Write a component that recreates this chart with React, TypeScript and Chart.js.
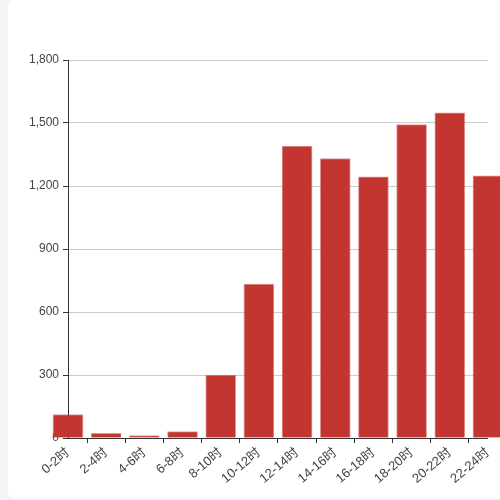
import { useEffect, useRef } from 'react';
import { Chart, registerables } from 'chart.js';

Chart.register(...registerables);

const HOURS = ['0-2时', '2-4时', '4-6时', '6-8时', '8-10时', '10-12时', '12-14时', '14-16时', '16-18时', '18-20时', '20-22时', '22-24时'];
const COUNTS = [112, 22, 11, 30, 300, 733, 1390, 1331, 1244, 1492, 1548, 1248];
const Y_TICKS = [0, 300, 600, 900, 1200, 1500, 1800];

const BAR_RED = '#c23531';
const AXIS = '#333';
const FONT = '"Liberation Sans", "Noto Sans CJK SC", sans-serif';

export default function App() {
  const canvasRef = useRef<HTMLCanvasElement>(null);
  const chartRef = useRef<Chart | null>(null);

  useEffect(() => {
    if (!canvasRef.current) return;
    document.body.style.margin = '0';
    document.body.style.background = '#f3f3f8';
    document.body.style.overflow = 'hidden';

    chartRef.current?.destroy();
    chartRef.current = new Chart(canvasRef.current, {
      type: 'bar',
      data: {
        labels: HOURS,
        datasets: [
          {
            data: COUNTS,
            backgroundColor: BAR_RED,
            borderColor: 'rgba(194,53,49,0.5)',
            borderWidth: 1,
            barThickness: 30,
            clip: false,
          },
        ],
      },
      options: {
        animation: false,
        responsive: true,
        maintainAspectRatio: false,
        layout: { padding: { top: 60, right: 12, left: 0, bottom: 0 } },
        plugins: {
          legend: { display: false },
          tooltip: { enabled: false },
        },
        scales: {
          x: {
            offset: false,
            grid: {
              drawOnChartArea: false,
              drawTicks: true,
              tickLength: 5,
              tickColor: AXIS,
            },
            border: { color: AXIS, width: 1 },
            ticks: {
              minRotation: 40,
              maxRotation: 40,
              autoSkip: false,
              padding: 2,
              color: '#444',
              font: { size: 13, family: FONT },
            },
            afterFit: (scale) => {
              scale.height = 60;
            },
          },
          y: {
            min: Y_TICKS[0],
            max: Y_TICKS[Y_TICKS.length - 1],
            afterBuildTicks: (scale) => {
              scale.ticks = Y_TICKS.map((value) => ({ value }));
            },
            grid: {
              color: '#ccc',
              tickColor: AXIS,
              tickLength: 5,
            },
            border: { color: AXIS, width: 1 },
            ticks: {
              padding: 4,
              color: '#444',
              font: { size: 12, family: FONT },
              callback: (value) => Number(value).toLocaleString('en-US'),
            },
            afterFit: (scale) => {
              scale.width = 60;
            },
          },
        },
      },
    });

    return () => {
      chartRef.current?.destroy();
      chartRef.current = null;
    };
  }, []);

  return (
    <div style={{ paddingLeft: 8, width: 500, height: 500, boxSizing: 'border-box' }}>
      <div
        style={{
          position: 'relative',
          width: 492,
          height: 498,
          background: '#fff',
          borderRadius: '6px 0 0 6px',
        }}
      >
        <canvas ref={canvasRef} />
      </div>
    </div>
  );
}
